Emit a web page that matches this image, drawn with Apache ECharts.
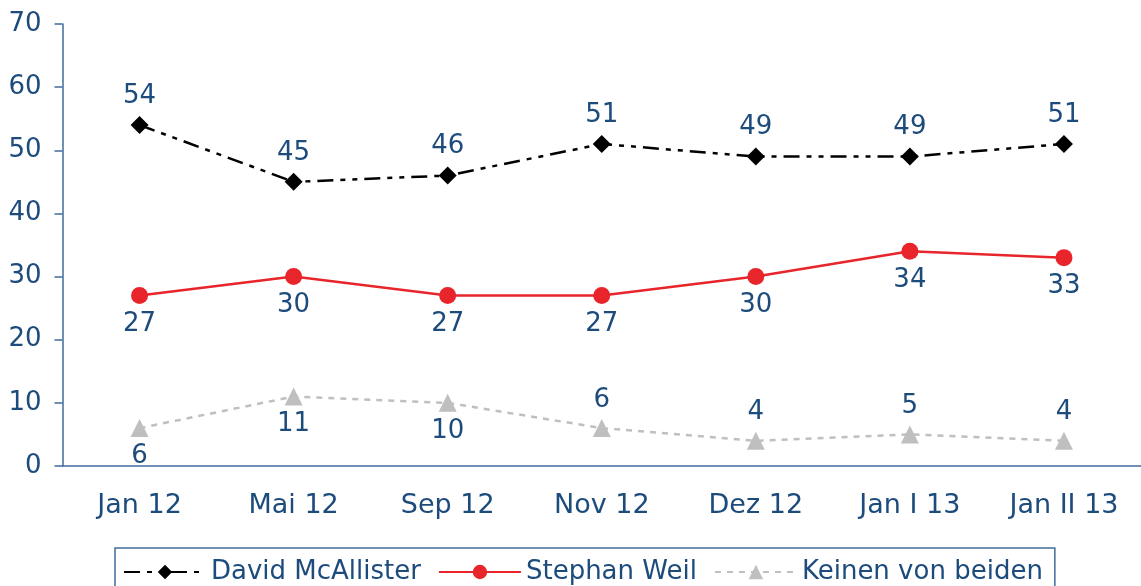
<!DOCTYPE html>
<html>
<head>
<meta charset="utf-8">
<script src="https://cdn.jsdelivr.net/npm/echarts@6/dist/echarts.min.js"></script>
<style>
  html, body { margin: 0; padding: 0; background: #fff; }
  #chart { width: 1141px; height: 586px; }
</style>
</head>
<body>
<div id="chart"></div>
<script>
// Kategorien und Werte
const categories = ["Jan 12", "Mai 12", "Sep 12", "Nov 12", "Dez 12", "Jan I 13", "Jan II 13"];
const mcallister = [54, 45, 46, 51, 49, 49, 51];
const weil = [27, 30, 27, 27, 30, 34, 33];
const keinen = [6, 11, 10, 6, 4, 5, 4];
// label side for the grey series
const keinenLabelSide = ["bottom", "bottom", "bottom", "top", "top", "top", "top"];

const textColor = "#1c4b7c";
const axisColor = "#3f6c9c";
const font = "DejaVu Sans";

const chart = echarts.init(document.getElementById("chart"));

chart.setOption({
  animation: false,
  textStyle: { fontFamily: font },
  grid: { left: 62.5, right: -6.5, top: 24, bottom: 120 },
  legend: {
    left: 115,
    top: 548,
    padding: [11, 12, 20, 8],
    borderColor: axisColor,
    borderWidth: 1.5,
    itemWidth: 82,
    itemHeight: 18,
    itemGap: 17,
    textStyle: { color: textColor, fontSize: 26, fontFamily: font },
    data: ["David McAllister", "Stephan Weil", "Keinen von beiden"]
  },
  xAxis: {
    type: "category",
    data: categories,
    boundaryGap: true,
    axisLine: { lineStyle: { color: axisColor, width: 1.5 } },
    axisTick: { length: 8, lineStyle: { color: axisColor, width: 1.5 } },
    axisLabel: { color: textColor, fontSize: 27, margin: 26, fontFamily: font }
  },
  yAxis: {
    type: "value",
    min: 0,
    max: 70,
    interval: 10,
    axisLine: { show: true, lineStyle: { color: axisColor, width: 1.5 } },
    axisTick: { show: true, length: 8, lineStyle: { color: axisColor, width: 1.5 } },
    splitLine: { show: false },
    axisLabel: { color: textColor, fontSize: 26, margin: 21, fontFamily: font }
  },
  series: [
    {
      name: "David McAllister",
      type: "line",
      data: mcallister,
      symbol: "diamond",
      symbolSize: 18,
      itemStyle: { color: "#000" },
      lineStyle: { color: "#000", width: 2.5, type: [16, 7, 5, 7, 5, 7] },
      label: { show: true, position: "top", distance: 7, color: textColor, fontSize: 26, fontFamily: font }
    },
    {
      name: "Stephan Weil",
      type: "line",
      data: weil,
      symbol: "circle",
      symbolSize: 17,
      itemStyle: { color: "#e8252b" },
      lineStyle: { color: "#e8252b", width: 2.5, type: "solid" },
      label: { show: true, position: "bottom", distance: 7, color: textColor, fontSize: 26, fontFamily: font }
    },
    {
      name: "Keinen von beiden",
      type: "line",
      data: keinen.map((v, i) => ({
        value: v,
        label: { position: keinenLabelSide[i] }
      })),
      symbol: "triangle",
      symbolSize: 18,
      itemStyle: { color: "#bfbfbf" },
      lineStyle: { color: "#bfbfbf", width: 2.5, type: [6, 6] },
      label: { show: true, distance: 6, color: textColor, fontSize: 26, fontFamily: font }
    }
  ]
});
</script>
</body>
</html>
